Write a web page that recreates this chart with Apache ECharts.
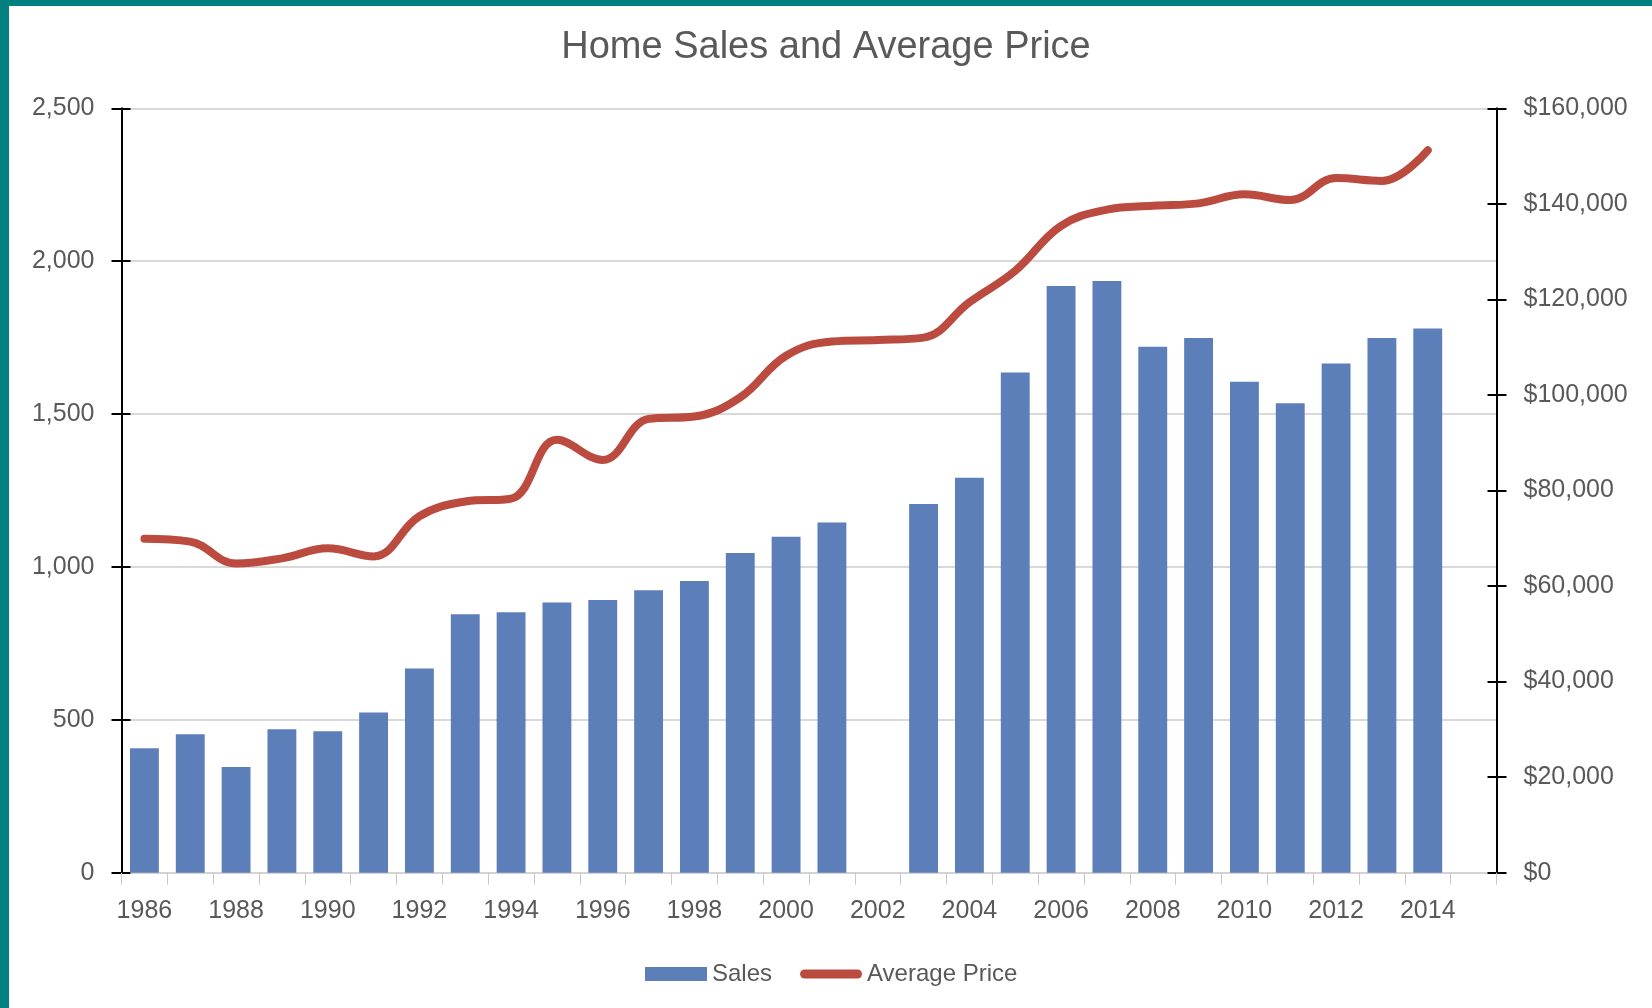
<!DOCTYPE html>
<html>
<head>
<meta charset="utf-8">
<title>Home Sales and Average Price</title>
<script src="https://cdn.jsdelivr.net/npm/echarts@6/dist/echarts.min.js"></script>
<style>
  html, body { margin: 0; padding: 0; background: #ffffff; }
  #chart { width: 1652px; height: 1008px; }
  .frame-top { position: absolute; left: 0; top: 0; width: 1652px; height: 6px; background: #00807f; }
  .frame-left { position: absolute; left: 0; top: 0; width: 9px; height: 1008px; background: #00807f; }
</style>
</head>
<body>
<div id="chart"></div>
<div class="frame-top"></div>
<div class="frame-left"></div>
<script>
// Yearly home sales (count) and average sale price (USD), 1986-2014.
const years = [
  '1986', '1987', '1988', '1989', '1990', '1991', '1992', '1993', '1994', '1995',
  '1996', '1997', '1998', '1999', '2000', '2001', '2002', '2003', '2004', '2005',
  '2006', '2007', '2008', '2009', '2010', '2011', '2012', '2013', '2014'
];

// No sales figure was recorded for 2002.
const sales = [
  407, 453, 346, 469, 463, 524, 668, 845, 852, 884,
  892, 924, 954, 1046, 1099, 1145, null, 1206, 1292, 1636,
  1919, 1935, 1720, 1749, 1606, 1535, 1665, 1749, 1780
];

const averagePrice = [
  69900, 69300, 64700, 65800, 67900, 66200, 74600, 77700, 78300, 90600,
  86400, 95000, 95500, 99500, 108200, 111200, 111500, 112000, 119400, 126000,
  135400, 138800, 139600, 140100, 142000, 140800, 145400, 144800, 151200
];

// Axis scales
const salesTicks = [0, 500, 1000, 1500, 2000, 2500];
const priceTicks = [0, 20000, 40000, 60000, 80000, 100000, 120000, 140000, 160000];

const FONT = "'Liberation Sans', Arial, sans-serif";
const TEXT_GREY = '#595959';
const BAR_BLUE = '#5d7fb9';
const LINE_RED = '#bb4a3f';

// A spare empty slot after 2014 leaves room before the price axis.
const axisSlots = years.concat(['']);

const salesMin = salesTicks[0];
const salesMax = salesTicks[salesTicks.length - 1];
const salesStep = salesTicks[1] - salesTicks[0];
const priceMin = priceTicks[0];
const priceMax = priceTicks[priceTicks.length - 1];
const priceStep = priceTicks[1] - priceTicks[0];

const fmtCount = v => v.toLocaleString('en-US');
const fmtDollar = v => '$' + v.toLocaleString('en-US');

const chart = echarts.init(document.getElementById('chart'), null, { renderer: 'canvas' });

// Second copy of each value axis only draws the inner half of the crossing tick marks.
function innerTickAxis(position, min, max, interval) {
  return {
    type: 'value',
    position: position,
    min: min, max: max, interval: interval,
    axisLine: { show: false },
    axisLabel: { show: false },
    splitLine: { show: false },
    axisTick: { show: true, inside: true, length: 9, lineStyle: { color: '#000', width: 2 } }
  };
}

const option = {
  backgroundColor: '#ffffff',
  animation: false,
  title: {
    text: 'Home Sales and Average Price',
    left: 'center',
    top: 24,
    textStyle: { fontFamily: FONT, fontSize: 38, fontWeight: 'normal', color: TEXT_GREY }
  },
  grid: { left: 121.5, right: 155.5, top: 108.3, bottom: 135.3, containLabel: false },
  legend: {
    left: 640,
    top: 957,
    itemWidth: 62,
    itemHeight: 14,
    itemGap: 28,
    textStyle: { fontFamily: FONT, fontSize: 24, color: TEXT_GREY },
    data: [
      { name: 'Sales', icon: 'rect' },
      { name: 'Average Price', icon: 'path://M5,0 H63 A5,5 0 0 1 63,10 H5 A5,5 0 0 1 5,0 Z' }
    ]
  },
  xAxis: {
    type: 'category',
    data: axisSlots,
    boundaryGap: true,
    axisLine: { show: true, lineStyle: { color: '#d4d4d4', width: 2 } },
    axisTick: { show: true, interval: 0, length: 12, lineStyle: { color: '#c8c8c8', width: 1 } },
    axisLabel: {
      interval: 1,
      margin: 26,
      fontFamily: FONT,
      fontSize: 25,
      color: TEXT_GREY
    },
    splitLine: { show: false }
  },
  yAxis: [
    {
      type: 'value',
      position: 'left',
      min: salesMin, max: salesMax, interval: salesStep,
      axisLine: { show: true, lineStyle: { color: '#000', width: 2 } },
      axisTick: { show: true, length: 10, lineStyle: { color: '#000', width: 2 } },
      axisLabel: { margin: 27, fontFamily: FONT, fontSize: 25, color: TEXT_GREY, formatter: fmtCount },
      splitLine: { show: true, lineStyle: { color: '#d9d9d9', width: 2 } }
    },
    {
      type: 'value',
      position: 'right',
      min: priceMin, max: priceMax, interval: priceStep,
      axisLine: { show: true, lineStyle: { color: '#000', width: 2 } },
      axisTick: { show: true, length: 10, lineStyle: { color: '#000', width: 2 } },
      axisLabel: { margin: 27, fontFamily: FONT, fontSize: 25, color: TEXT_GREY, formatter: fmtDollar },
      splitLine: { show: false }
    },
    innerTickAxis('left', salesMin, salesMax, salesStep),
    innerTickAxis('right', priceMin, priceMax, priceStep)
  ],
  series: [
    {
      name: 'Sales',
      type: 'bar',
      yAxisIndex: 0,
      data: sales,
      barWidth: '63%',
      itemStyle: { color: BAR_BLUE }
    },
    {
      name: 'Average Price',
      type: 'line',
      yAxisIndex: 1,
      data: averagePrice,
      smooth: 0.4,
      showSymbol: false,
      symbol: 'none',
      itemStyle: { color: LINE_RED },
      lineStyle: { color: LINE_RED, width: 8, cap: 'round', join: 'round' },
      z: 5
    }
  ]
};

chart.setOption(option);
</script>
</body>
</html>
